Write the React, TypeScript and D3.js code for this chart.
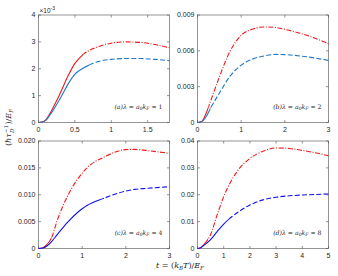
import React from 'react';
import * as d3 from 'd3';

// valores
const xA = [0, 0.05, 0.1, 0.15, 0.2, 0.3, 0.4, 0.5, 0.6, 0.8, 1.0, 1.2, 1.4, 1.6, 1.8];
const redA = [0, 0.02, 0.1, 0.3, 0.55, 1.1, 1.7, 2.2, 2.5, 2.8, 2.95, 3.0, 2.98, 2.9, 2.78];
const blueA = [0, 0.02, 0.08, 0.25, 0.45, 0.9, 1.4, 1.8, 2.0, 2.25, 2.35, 2.38, 2.38, 2.35, 2.3];

const xB = [0, 0.1, 0.2, 0.3, 0.5, 0.75, 1.0, 1.25, 1.5, 1.8, 2.0, 2.5, 3.0];
const redB = [0, 0.1, 0.8, 1.8, 3.8, 6.0, 7.3, 7.8, 8.0, 7.95, 7.8, 7.3, 6.6];
const blueB = [0, 0.08, 0.5, 1.2, 2.45, 3.9, 4.8, 5.3, 5.55, 5.7, 5.68, 5.5, 5.2];

const xC = [0, 0.1, 0.2, 0.3, 0.42, 0.68, 1.0, 1.11, 1.5, 2.0, 2.2, 2.5, 3.0];
const redC = [0, 0.15, 0.8, 2.0, 5.0, 10.0, 14.0, 15.0, 17.0, 18.4, 18.45, 18.2, 17.7];
const blueC = [0, 0.1, 0.5, 1.3, 2.5, 5.0, 7.4, 8.0, 9.35, 10.7, 11.0, 11.2, 11.5];

const xD = [0, 0.1, 0.25, 0.5, 0.75, 1.0, 1.5, 2.0, 2.5, 3.0, 3.5, 4.0, 4.5, 5.0];
const redD = [0, 0.2, 1.5, 5.2, 12.5, 19.3, 28.5, 33.5, 36.2, 37.4, 37.2, 36.5, 35.6, 34.5];
const blueD = [0, 0.15, 1.2, 3.3, 6.3, 9.1, 13.2, 16.2, 18.1, 19.1, 19.6, 19.9, 20.1, 20.3];

const ticksA = [0, 1, 2, 3, 4];
const ticksB = [0, 3, 6, 9];
const ticksC = [0, 5, 10, 15, 20];
const ticksD = [0, 10, 20, 30, 40];

const xTicksA = [0, 0.5, 1, 1.5];
const xTicksB = [0, 1, 2, 3];
const xTicksD = [0, 1, 2, 3, 4, 5];

const panels = [
  { id: 'a', xs: xA, red: redA, blue: blueA, xMax: 1.8, yMax: 4, yTicks: ticksA, xTicks: xTicksA,
    yFmt: (d: number) => `${d}`, lam: '1', left: 38.5, top: 15, blueColor: '#1f78c8', redSolid: 0.62, blueSolid: 0.7 },
  { id: 'b', xs: xB, red: redB, blue: blueB, xMax: 3, yMax: 9, yTicks: ticksB, xTicks: xTicksB,
    yFmt: (d: number) => (d === 0 ? '0' : (d / 1000).toFixed(3)), lam: '2', left: 197.5, top: 15, blueColor: '#1f78c8', redSolid: 0.25, blueSolid: 0.3 },
  { id: 'c', xs: xC, red: redC, blue: blueC, xMax: 3, yMax: 20, yTicks: ticksC, xTicks: xTicksB,
    yFmt: (d: number) => (d === 0 ? '0' : (d / 1000).toFixed(3)), lam: '4', left: 38.5, top: 141, blueColor: '#1010f0', redSolid: 0.3, blueSolid: 1.5 },
  { id: 'd', xs: xD, red: redD, blue: blueD, xMax: 5, yMax: 40, yTicks: ticksD, xTicks: xTicksD,
    yFmt: (d: number) => (d === 0 ? '0' : (d / 1000).toFixed(2)), lam: '8', left: 197.5, top: 141, blueColor: '#1010f0', redSolid: 0.4, blueSolid: 1.2 },
];

const W = 131;
const H = 107.5;
const axisColor = '#4d4d4d';
const textColor = '#262626';
const red = '#f01818';

const Panel = ({ p }: { p: typeof panels[number] }) => {
  const x = d3.scaleLinear().domain([0, p.xMax]).range([0, W]);
  const y = d3.scaleLinear().domain([0, p.yMax]).range([H, 0]);
  const line = d3.line<number>()
    .x((_, i) => x(p.xs[i]))
    .y(d => y(d))
    .curve(d3.curveMonotoneX);

  const seg = (vals: number[], color: string, split: number, dash: string, key: string) => (
    <g key={key}>
      <clipPath id={`s-${p.id}-${key}`}><rect x={-2} y={-5} width={x(split) + 2} height={H + 10} /></clipPath>
      <clipPath id={`d-${p.id}-${key}`}><rect x={x(split)} y={-5} width={W - x(split) + 2} height={H + 10} /></clipPath>
      <path d={line(vals) || ''} fill="none" stroke={color} strokeWidth={1.1} clipPath={`url(#s-${p.id}-${key})`} />
      <path d={line(vals) || ''} fill="none" stroke={color} strokeWidth={1.1} strokeDasharray={dash} clipPath={`url(#d-${p.id}-${key})`} />
    </g>
  );

  return (
    <g transform={`translate(${p.left},${p.top})`}>
      <rect x={0} y={0} width={W} height={H} fill="white" stroke={axisColor} strokeWidth={0.6} />
      {p.yTicks.map(t => (
        <g key={`y${t}`}>
          <line x1={0} x2={2.5} y1={y(t)} y2={y(t)} stroke={axisColor} strokeWidth={0.6} />
          <line x1={W} x2={W - 2.5} y1={y(t)} y2={y(t)} stroke={axisColor} strokeWidth={0.6} />
          <text x={-3} y={y(t)} dy="0.35em" textAnchor="end" fontSize={7} fill={textColor}
            fontFamily="Liberation Sans, Arial, sans-serif">{p.yFmt(t)}</text>
        </g>
      ))}
      {p.xTicks.map(t => (
        <g key={`x${t}`}>
          <line x1={x(t)} x2={x(t)} y1={H} y2={H - 2.5} stroke={axisColor} strokeWidth={0.6} />
          <line x1={x(t)} x2={x(t)} y1={0} y2={2.5} stroke={axisColor} strokeWidth={0.6} />
          <text x={x(t)} y={H + 9} textAnchor="middle" fontSize={7} fill={textColor}
            fontFamily="Liberation Sans, Arial, sans-serif">{t}</text>
        </g>
      ))}
      {seg(p.red, red, p.redSolid, '5 1.6 1 1.6', 'r')}
      {seg(p.blue, p.blueColor, p.blueSolid, '5 2.2', 'b')}
      <text x={W - 7} y={H - 14} textAnchor="end" fontSize={6.2} fill={textColor}
        fontFamily="DejaVu Serif, serif" fontStyle="italic">
        ({p.id})λ = a<tspan fontSize={4.5} dy={1.5}>0</tspan><tspan dy={-1.5}>k</tspan>
        <tspan fontSize={4.5} dy={1.5}>F</tspan><tspan dy={-1.5} fontStyle="normal"> = {p.lam}</tspan>
      </text>
      {p.id === 'a' && (
        <text x={1} y={-2.5} fontSize={6.5} fill={textColor} fontFamily="Liberation Sans, Arial, sans-serif">
          ×10<tspan fontSize={5} dy={-3}>-3</tspan>
        </text>
      )}
    </g>
  );
};

export default function App() {
  return (
    <svg width={338} height={276} style={{ display: 'block', position: 'absolute', left: 0, top: 0, background: 'white' }}>
      {panels.map(p => <Panel key={p.id} p={p} />)}
      <g transform="translate(11,128) rotate(-90)" fill={textColor} fontFamily="DejaVu Serif, serif" fontSize={8}>
        <text x={-18} y={0}>(<tspan fontStyle="italic">ħτ</tspan></text>
        <text x={-5} y={-3.5} fontSize={5.5}>−1</text>
        <text x={-5} y={2.5} fontSize={5.5} fontStyle="italic">D</text>
        <text x={3.5} y={0}>)/<tspan fontStyle="italic">E</tspan><tspan fontSize={5.5} fontStyle="italic" dy={2}>F</tspan></text>
      </g>
      <text x={180} y={268} textAnchor="middle" fontSize={8} fill={textColor} fontFamily="DejaVu Serif, serif">
        <tspan fontStyle="italic">t</tspan> = (<tspan fontStyle="italic">k</tspan>
        <tspan fontSize={5.5} fontStyle="italic" dy={2}>B</tspan><tspan fontStyle="italic" dy={-2}>T</tspan>)/
        <tspan fontStyle="italic">E</tspan><tspan fontSize={5.5} fontStyle="italic" dy={2}>F</tspan>
      </text>
    </svg>
  );
}
